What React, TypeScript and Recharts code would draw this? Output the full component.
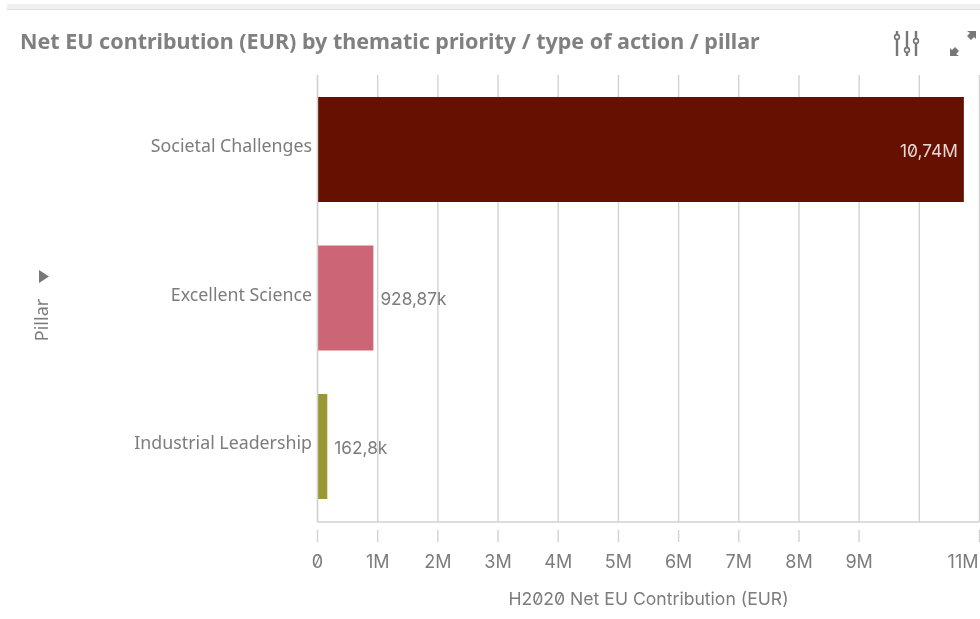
import React from 'react';
import { BarChart, Bar, Cell, XAxis, YAxis, CartesianGrid, LabelList } from 'recharts';

const pillars = ['Societal Challenges', 'Excellent Science', 'Industrial Leadership'];
const contributions = [10740000, 928870, 162800];
const valueLabels = ['10,74M', '928,87k', '162,8k'];
const barColors = ['#661100', '#CC6677', '#999933'];
const xTicks = [0, 1000000, 2000000, 3000000, 4000000, 5000000, 6000000, 7000000, 8000000, 9000000, 10000000, 11000000];
const xTickLabels = ['0', '1M', '2M', '3M', '4M', '5M', '6M', '7M', '8M', '9M', '', '11M'];

const data = pillars.map((name, i) => ({ name, value: contributions[i] }));

const FONT = '"Noto Sans", sans-serif';
const TICK_FONT = 'Inter, "Noto Sans", sans-serif';
const GREY = '#7c7c7c';
const LINE = '#d2d2d2';

const PillarTick = (props: any) => {
    const { x, y, payload } = props;
    return (
        <text x={x + 2.5} y={y - 3} dy="0.35em" textAnchor="end" fontFamily={FONT} fontSize={17.8} fill={GREY}>
            {payload.value}
        </text>
    );
};

const ValueTick = (props: any) => {
    const { x, y, index } = props;
    const label = xTickLabels[index];
    return (
        <g>
            {label !== '' && <line x1={x} x2={x} y1={y} y2={y + 12} stroke={LINE} strokeWidth={1.4} />}
            <text
                x={index === xTicks.length - 1 ? x - 1 : x}
                y={y + 38}
                textAnchor={index === xTicks.length - 1 ? 'end' : 'middle'}
                fontFamily={TICK_FONT}
                fontSize={18}
                fill={GREY}
                style={{ fontFeatureSettings: '"zero"' }}
            >
                {label}
            </text>
        </g>
    );
};

const ValueLabel = (props: any) => {
    const { x, y, width, height, index } = props;
    const inside = index === 0;
    return (
        <text
            x={inside ? x + width - 6 : x + width + 7}
            y={y + height / 2 + 1}
            dy="0.35em"
            textAnchor={inside ? 'end' : 'start'}
            fontFamily={TICK_FONT}
            fontSize={17.3}
            fill={inside ? '#e6d8d4' : GREY}
            style={{ fontFeatureSettings: '"zero"' }}
        >
            {valueLabels[index]}
        </text>
    );
};

const Icons = () => (
    <svg width={980} height={619} style={{ position: 'absolute', left: 0, top: 0, pointerEvents: 'none' }}>
        <g stroke="#777" strokeWidth={2.4} fill="#fff">
            <line x1={897} x2={897} y1={31} y2={56} />
            <line x1={907} x2={907} y1={31} y2={56} />
            <line x1={916} x2={916} y1={31} y2={56} />
            <circle cx={897} cy={37} r={2.4} strokeWidth={1.6} />
            <circle cx={907} cy={50} r={2.4} strokeWidth={1.6} />
            <circle cx={916} cy={41} r={2.4} strokeWidth={1.6} />
        </g>
        <path d="M967 31h9v8l-2-2-3 3-4-4 3-3z" fill="#777" />
        <path d="M959 56h-9v-8l2 2 3-3 4 4-3 3z" fill="#777" />
        <path d="M39 270l10 6.500-10 6.500z" fill="#777" />
        <text
            transform="translate(48 320) rotate(-90)"
            textAnchor="middle"
            fontFamily={FONT}
            fontSize={18}
            fill={GREY}
        >
            Pillar
        </text>
    </svg>
);

export default function App() {
    return (
        <div style={{ position: 'absolute', left: 0, top: 0, width: 980, height: 619, background: '#fff', overflow: 'hidden', filter: 'blur(0.35px)' }}>
            <div style={{ position: 'absolute', left: 7, right: 0, top: 4, height: 5, background: '#f0f0f0', borderBottom: '1.5px solid #dedede' }} />
            <div style={{ position: 'absolute', left: 20, top: 26, fontFamily: FONT, fontWeight: 700, fontSize: 21.5, color: '#808080', whiteSpace: 'nowrap' }}>
                Net EU contribution (EUR) by thematic priority / type of action / pillar
            </div>
            <BarChart
                width={980}
                height={619}
                data={data}
                layout="vertical"
                barCategoryGap={0}
                margin={{ top: 75, right: 0.5, bottom: 0, left: 0 }}
            >
                <CartesianGrid horizontal={false} vertical stroke={LINE} strokeWidth={1.4} />
                <XAxis
                    type="number"
                    domain={[0, 11000000]}
                    ticks={xTicks}
                    interval={0}
                    height={97}
                    tick={<ValueTick />}
                    tickLine={false}
                    axisLine={{ stroke: LINE, strokeWidth: 1.6 }}
                    label={{ value: 'H2020 Net EU Contribution (EUR)', position: 'insideBottom', offset: 14, fontFamily: TICK_FONT, fontSize: 17.6, fill: GREY, style: { fontFeatureSettings: '"zero"' } }}
                />
                <YAxis
                    type="category"
                    dataKey="name"
                    width={317.5}
                    padding={{ top: 0, bottom: 1.5 }}
                    tick={<PillarTick />}
                    tickLine={false}
                    axisLine={{ stroke: LINE, strokeWidth: 1.4 }}
                />
                <Bar dataKey="value" barSize={105} isAnimationActive={false}>
                    {data.map((entry, index) => (
                        <Cell key={`cell-${index}`} fill={barColors[index]} />
                    ))}
                    <LabelList dataKey="value" content={<ValueLabel />} />
                </Bar>
            </BarChart>
            <Icons />
        </div>
    );
}
